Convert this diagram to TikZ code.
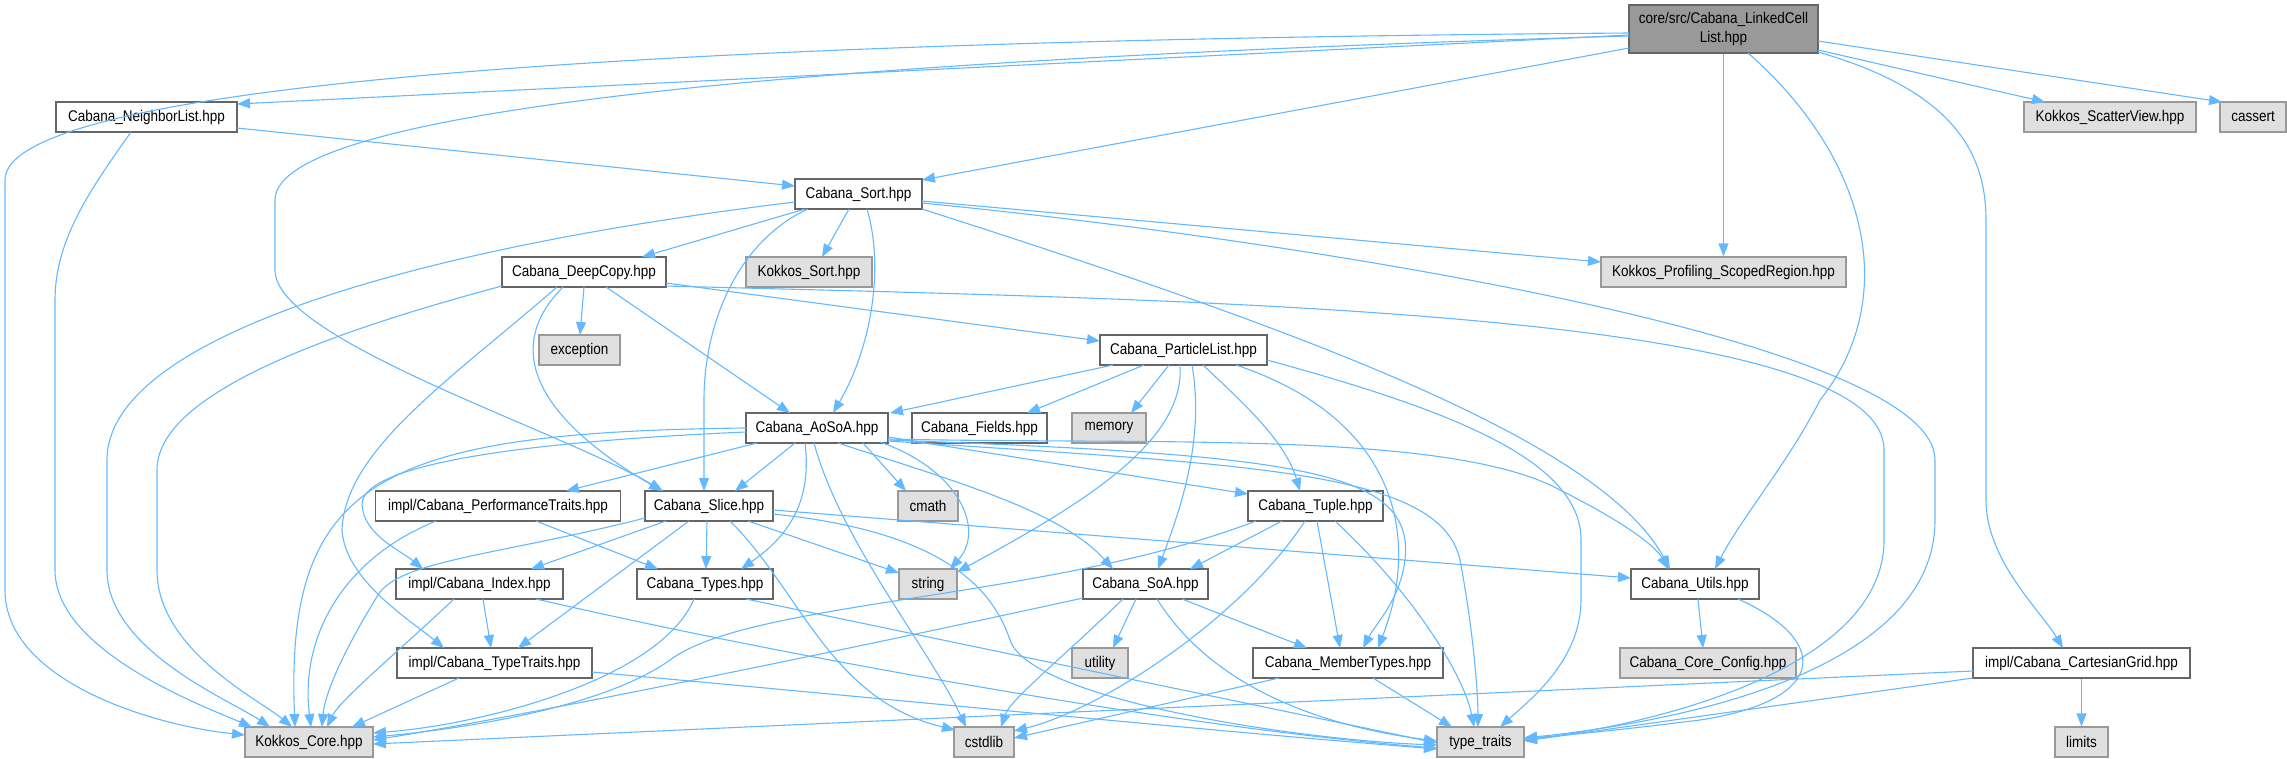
\documentclass[tikz,border=0pt]{standalone}
\usepackage{fontspec}
\setmainfont{Liberation Sans}[FakeStretch=0.87]
\usetikzlibrary{arrows.meta}
\definecolor{eblue}{HTML}{63B8FF}
\definecolor{bdark}{HTML}{666666}
\definecolor{bgray}{HTML}{999999}
\definecolor{fgray}{HTML}{E0E0E0}
\tikzset{
  wbox/.style={draw=bdark, fill=white, line width=1.1pt, minimum height=30pt, inner sep=0pt, font=\fontsize{15.5}{19}\selectfont},
  gbox/.style={wbox, draw=bgray, fill=fgray},
  mbox/.style={wbox, draw=bdark, fill=bgray, minimum height=48pt, align=center},
  edge/.style={draw=eblue, line width=1.1pt, -{Triangle[length=13pt,width=10pt]}},
}
\begin{document}
\begin{tikzpicture}[x=1pt,y=-1pt]
\useasboundingbox (0,0) rectangle (2287,758);
% nodes
\node[mbox, minimum width=189pt] (main) at (1723.5,29) {core/src/Cabana\_LinkedCell\\List.hpp};
\node[wbox, minimum width=181pt] (nl) at (146.5,117) {Cabana\_NeighborList.hpp};
\node[gbox, minimum width=172pt] (scat) at (2110,117) {Kokkos\_ScatterView.hpp};
\node[gbox, minimum width=66pt] (cass) at (2253,117) {cassert};
\node[wbox, minimum width=127pt] (sort) at (858.5,194) {Cabana\_Sort.hpp};
\node[wbox, minimum width=164pt] (dc) at (584,272) {Cabana\_DeepCopy.hpp};
\node[gbox, minimum width=126pt] (ksort) at (809,272) {Kokkos\_Sort.hpp};
\node[gbox, minimum width=245pt] (prof) at (1723.5,272) {Kokkos\_Profiling\_ScopedRegion.hpp};
\node[gbox, minimum width=81pt] (exc) at (579.5,350) {exception};
\node[wbox, minimum width=167pt] (pl) at (1183.5,350) {Cabana\_ParticleList.hpp};
\node[wbox, minimum width=142pt] (aosoa) at (817,428) {Cabana\_AoSoA.hpp};
\node[wbox, minimum width=135pt] (fields) at (979.5,428) {Cabana\_Fields.hpp};
\node[gbox, minimum width=74pt] (mem) at (1109,428) {memory};
\node[wbox, minimum width=245pt] (perf) at (498,506) {impl/Cabana\_PerformanceTraits.hpp};
\node[wbox, minimum width=128pt] (slice) at (709,506) {Cabana\_Slice.hpp};
\node[gbox, minimum width=60pt] (cmath) at (928,506) {cmath};
\node[wbox, minimum width=135pt] (tuple) at (1315.5,506) {Cabana\_Tuple.hpp};
\node[wbox, minimum width=167pt] (index) at (479.5,584) {impl/Cabana\_Index.hpp};
\node[wbox, minimum width=136pt] (types) at (705,584) {Cabana\_Types.hpp};
\node[gbox, minimum width=58pt] (string) at (928,584) {string};
\node[wbox, minimum width=125pt] (soa) at (1145.5,584) {Cabana\_SoA.hpp};
\node[wbox, minimum width=128pt] (utils) at (1695,584) {Cabana\_Utils.hpp};
\node[wbox, minimum width=195pt] (tt) at (494.5,663) {impl/Cabana\_TypeTraits.hpp};
\node[gbox, minimum width=56pt] (util) at (1100,663) {utility};
\node[wbox, minimum width=190pt] (mt) at (1348,663) {Cabana\_MemberTypes.hpp};
\node[gbox, minimum width=176pt] (cfg) at (1708,663) {Cabana\_Core\_Config.hpp};
\node[wbox, minimum width=217pt] (cg) at (2081.5,663) {impl/Cabana\_CartesianGrid.hpp};
\node[gbox, minimum width=128pt] (core) at (309,742) {Kokkos\_Core.hpp};
\node[gbox, minimum width=60pt] (cstd) at (984,742) {cstdlib};
\node[gbox, minimum width=87pt] (tr) at (1480.5,742) {type\_traits};
\node[gbox, minimum width=53pt] (lim) at (2081.5,742) {limits};
% edges from main
\draw[edge] ([shift={(-94.5,4)}]main.center) .. controls (700,40) and (5,80) .. (5,180) -- (5,590) .. controls (5,680) and (150,725) .. ([shift={(-64,-7)}]core.center);
\draw[edge] ([shift={(-94.5,6)}]main.center) -- ([shift={(90.5,-13)}]nl.center);
\draw[edge] ([shift={(-94.5,7)}]main.center) .. controls (800,60) and (275,110) .. (275,200) -- (275,270) .. controls (275,340) and (560,430) .. ([shift={(-46,-15)}]slice.center);
\draw[edge] ([shift={(-94.5,19)}]main.center) -- ([shift={(63.5,-14)}]sort.center);
\draw[edge] (main.south) -- (prof.north);
\draw[edge] ([shift={(24.5,24)}]main.center) .. controls (1870,160) and (1900,300) .. (1820,400) .. controls (1790,460) and (1740,520) .. ([shift={(20,-15)}]utils.center);
\draw[edge] ([shift={(94.5,21)}]main.center) -- ([shift={(-65,-15)}]scat.center);
\draw[edge] ([shift={(94.5,12)}]main.center) -- ([shift={(-31,-15)}]cass.center);
\draw[edge] ([shift={(94.5,23)}]main.center) .. controls (1950,90) and (1986,150) .. (1986,220) -- (1986,500) .. controls (1986,560) and (2040,610) .. ([shift={(-18.5,-15)}]cg.center);
% NeighborList
\draw[edge] ([shift={(90.5,11)}]nl.center) -- ([shift={(-63.5,-8)}]sort.center);
\draw[edge] ([shift={(-15.5,15)}]nl.center) .. controls (90,190) and (55,240) .. (55,300) -- (55,570) .. controls (55,650) and (200,705) .. ([shift={(-57,-15)}]core.center);
% Sort
\draw[edge] ([shift={(-63.5,8)}]sort.center) .. controls (400,250) and (107,340) .. (107,460) -- (107,570) .. controls (107,650) and (230,700) .. ([shift={(-39,-15)}]core.center);
\draw[edge] ([shift={(-53.5,15)}]sort.center) -- ([shift={(58,-15)}]dc.center);
\draw[edge] ([shift={(-9.5,15)}]sort.center) -- ([shift={(13,-15)}]ksort.center);
\draw[edge] ([shift={(-50.5,15)}]sort.center) .. controls (740,240) and (704,320) .. (704,400) -- ([shift={(-5,-15)}]slice.center);
\draw[edge] ([shift={(8.5,15)}]sort.center) .. controls (885,270) and (870,350) .. ([shift={(16,-15)}]aosoa.center);
\draw[edge] ([shift={(63.5,7)}]sort.center) -- ([shift={(-122.5,-10)}]prof.center);
\draw[edge] ([shift={(63.5,9)}]sort.center) .. controls (1300,240) and (1935,340) .. (1935,460) -- (1935,520) .. controls (1935,680) and (1650,725) .. ([shift={(43.5,-4)}]tr.center);
\draw[edge] ([shift={(63.5,15)}]sort.center) .. controls (1300,330) and (1600,440) .. ([shift={(-25,-15)}]utils.center);
% DeepCopy
\draw[edge] ([shift={(-82,14)}]dc.center) .. controls (300,340) and (157,400) .. (157,470) -- (157,570) .. controls (157,650) and (260,700) .. ([shift={(-17,-15)}]core.center);
\draw[edge] ([shift={(0,15)}]dc.center) -- ([shift={(0.5,-15)}]exc.center);
\draw[edge] ([shift={(82,11)}]dc.center) -- ([shift={(-83.5,-9)}]pl.center);
\draw[edge] ([shift={(22,15)}]dc.center) -- ([shift={(-27,-15)}]aosoa.center);
\draw[edge] ([shift={(-21,15)}]dc.center) .. controls (500,350) and (540,420) .. ([shift={(-47,-15)}]slice.center);
\draw[edge] ([shift={(-27,15)}]dc.center) .. controls (450,380) and (345,450) .. (342,530) .. controls (345,580) and (410,620) .. ([shift={(-50.5,-15)}]tt.center);
\draw[edge] ([shift={(82,14)}]dc.center) .. controls (1200,300) and (1884,310) .. (1884,450) -- (1884,540) .. controls (1884,670) and (1650,725) .. ([shift={(43.5,-2)}]tr.center);
% ParticleList
\draw[edge] ([shift={(-70.5,15)}]pl.center) -- ([shift={(73,-15)}]aosoa.center);
\draw[edge] ([shift={(-39.5,15)}]pl.center) -- ([shift={(47.5,-15)}]fields.center);
\draw[edge] ([shift={(-14.5,15)}]pl.center) -- ([shift={(22,-15)}]mem.center);
\draw[edge] ([shift={(-3.5,15)}]pl.center) .. controls (1185,440) and (1090,500) .. ([shift={(29,-12)}]string.center);
\draw[edge] ([shift={(8.5,15)}]pl.center) .. controls (1205,440) and (1180,510) .. ([shift={(12.5,-15)}]soa.center);
\draw[edge] ([shift={(19.5,15)}]pl.center) .. controls (1240,400) and (1285,440) .. ([shift={(-15.5,-15)}]tuple.center);
\draw[edge] ([shift={(52.5,15)}]pl.center) .. controls (1400,420) and (1420,540) .. ([shift={(30,-15)}]mt.center);
\draw[edge] ([shift={(83.5,10)}]pl.center) .. controls (1450,410) and (1581,460) .. (1581,540) -- (1581,600) .. controls (1581,660) and (1530,700) .. ([shift={(19.5,-15)}]tr.center);
% AoSoA
\draw[edge] ([shift={(-71,0)}]aosoa.center) .. controls (380,432) and (285,480) .. ([shift={(-14,-15)}]core.center);
\draw[edge] ([shift={(-71,4)}]aosoa.center) .. controls (560,440) and (360,460) .. (362,505) .. controls (364,535) and (400,550) .. ([shift={(-56.5,-15)}]index.center);
\draw[edge] ([shift={(-60,15)}]aosoa.center) -- ([shift={(68,-15)}]perf.center);
\draw[edge] ([shift={(-22,15)}]aosoa.center) -- ([shift={(26,-15)}]slice.center);
\draw[edge] ([shift={(-12,15)}]aosoa.center) .. controls (812,500) and (790,535) .. ([shift={(36,-15)}]types.center);
\draw[edge] ([shift={(-3,15)}]aosoa.center) .. controls (840,540) and (930,650) .. ([shift={(-18,-15)}]cstd.center);
\draw[edge] ([shift={(21,15)}]aosoa.center) .. controls (950,480) and (1060,510) .. ([shift={(-32.5,-15)}]soa.center);
\draw[edge] ([shift={(46,15)}]aosoa.center) -- ([shift={(-22,-15)}]cmath.center);
\draw[edge] ([shift={(63,14)}]aosoa.center) .. controls (960,470) and (985,530) .. ([shift={(22,-15)}]string.center);
\draw[edge] ([shift={(71,9)}]aosoa.center) -- ([shift={(-67.5,-12)}]tuple.center);
\draw[edge] ([shift={(71,11)}]aosoa.center) .. controls (1150,445) and (1450,430) .. (1560,490) .. controls (1620,520) and (1655,545) .. ([shift={(-27,-15)}]utils.center);
\draw[edge] ([shift={(71,12)}]aosoa.center) .. controls (1300,455) and (1415,470) .. (1405,560) .. controls (1400,600) and (1375,625) .. ([shift={(15,-15)}]mt.center);
\draw[edge] ([shift={(71,13)}]aosoa.center) .. controls (1250,465) and (1440,470) .. (1460,560) .. controls (1475,640) and (1478,700) .. ([shift={(-2.5,-15)}]tr.center);
% PerformanceTraits
\draw[edge] ([shift={(-62,15)}]perf.center) .. controls (340,560) and (300,640) .. ([shift={(2,-15)}]core.center);
\draw[edge] ([shift={(38,15)}]perf.center) -- ([shift={(-47,-15)}]types.center);
% Slice
\draw[edge] ([shift={(-64,12)}]slice.center) .. controls (500,555) and (400,560) .. (378,595) .. controls (350,640) and (325,690) .. ([shift={(13,-15)}]core.center);
\draw[edge] ([shift={(-43,15)}]slice.center) -- ([shift={(51.5,-15)}]index.center);
\draw[edge] ([shift={(-20,15)}]slice.center) -- ([shift={(23.5,-15)}]tt.center);
\draw[edge] ([shift={(-2,15)}]slice.center) -- ([shift={(1,-15)}]types.center);
\draw[edge] ([shift={(21,15)}]slice.center) .. controls (800,590) and (830,700) .. ([shift={(-29,-12)}]cstd.center);
\draw[edge] ([shift={(39,15)}]slice.center) -- ([shift={(-29,-11)}]string.center);
\draw[edge] ([shift={(64,4)}]slice.center) -- ([shift={(-64,-6)}]utils.center);
\draw[edge] ([shift={(64,8)}]slice.center) .. controls (930,530) and (990,580) .. (1010,640) .. controls (1030,700) and (1300,740) .. ([shift={(-43.5,3)}]tr.center);
% Types
\draw[edge] ([shift={(-11,15)}]types.center) .. controls (660,680) and (480,725) .. ([shift={(64,-9)}]core.center);
\draw[edge] ([shift={(41,15)}]types.center) -- ([shift={(-43.5,1)}]tr.center);
% Index
\draw[edge] ([shift={(-25.5,15)}]index.center) .. controls (400,650) and (340,700) .. ([shift={(18,-15)}]core.center);
\draw[edge] ([shift={(3.5,15)}]index.center) -- ([shift={(-3.5,-15)}]tt.center);
\draw[edge] ([shift={(56.5,15)}]index.center) .. controls (800,660) and (1200,730) .. ([shift={(-43.5,6)}]tr.center);
% TypeTraits
\draw[edge] ([shift={(-35.5,15)}]tt.center) -- ([shift={(43,-15)}]core.center);
\draw[edge] ([shift={(97.5,9)}]tt.center) .. controls (900,700) and (1200,730) .. ([shift={(-43.5,7)}]tr.center);
% Tuple
\draw[edge] ([shift={(-59.5,15)}]tuple.center) .. controls (1050,600) and (750,600) .. (670,660) .. controls (600,710) and (450,730) .. ([shift={(64,-5)}]core.center);
\draw[edge] ([shift={(-33.5,15)}]tuple.center) -- ([shift={(44.5,-15)}]soa.center);
\draw[edge] ([shift={(-10.5,15)}]tuple.center) .. controls (1240,620) and (1100,710) .. ([shift={(30,-11)}]cstd.center);
\draw[edge] ([shift={(1.5,15)}]tuple.center) -- ([shift={(-8,-15)}]mt.center);
\draw[edge] ([shift={(19.5,15)}]tuple.center) .. controls (1420,600) and (1465,680) .. ([shift={(-6.5,-15)}]tr.center);
% SoA
\draw[edge] ([shift={(-62.5,14)}]soa.center) .. controls (800,660) and (500,720) .. ([shift={(64,-2)}]core.center);
\draw[edge] ([shift={(-22.5,15)}]soa.center) .. controls (1060,660) and (1010,700) .. ([shift={(17,-15)}]cstd.center);
\draw[edge] ([shift={(-9.5,15)}]soa.center) -- ([shift={(13,-15)}]util.center);
\draw[edge] ([shift={(11.5,15)}]soa.center) .. controls (1220,700) and (1350,730) .. ([shift={(-43.5,-1)}]tr.center);
\draw[edge] ([shift={(36.5,15)}]soa.center) -- ([shift={(-41,-15)}]mt.center);
% MemberTypes
\draw[edge] ([shift={(-69,15)}]mt.center) -- ([shift={(30,-4)}]cstd.center);
\draw[edge] ([shift={(25,15)}]mt.center) -- ([shift={(-28.5,-15)}]tr.center);
% Utils
\draw[edge] ([shift={(3,15)}]utils.center) -- ([shift={(-5,-15)}]cfg.center);
\draw[edge] ([shift={(43,15)}]utils.center) .. controls (1830,640) and (1830,700) .. (1700,720) .. controls (1620,730) and (1560,736) .. ([shift={(43.5,-4)}]tr.center);
% CartesianGrid
\draw[edge] ([shift={(-108.5,8)}]cg.center) -- ([shift={(64,2)}]core.center);
\draw[edge] (cg.south) -- (lim.north);
\draw[edge] ([shift={(-108.5,15)}]cg.center) -- ([shift={(43.5,-1)}]tr.center);
\end{tikzpicture}
\end{document}
